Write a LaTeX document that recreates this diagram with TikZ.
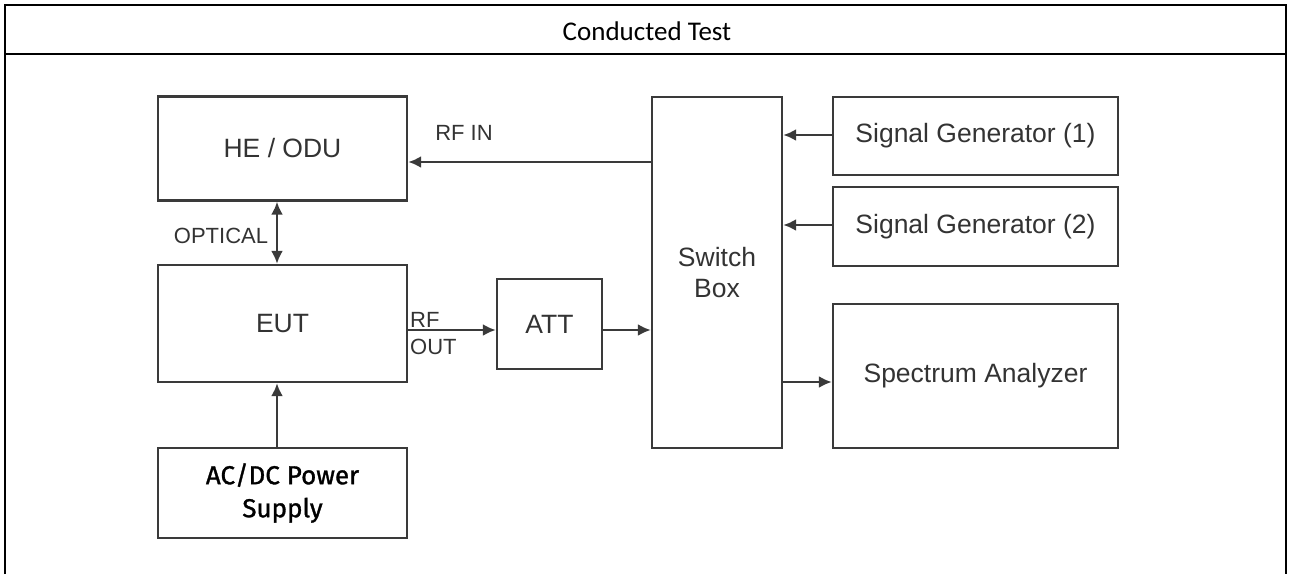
\documentclass[tikz,border=0pt]{standalone}
\usepackage{fontspec}
\setmainfont{Liberation Sans}
\newfontfamily\titlefont{Carlito}
\newfontfamily\psfont[FakeBold=1.2]{Fira Sans}
\usetikzlibrary{arrows.meta,positioning}

\definecolor{boxgray}{HTML}{3A3A3A}
\definecolor{txtgray}{HTML}{333333}

\begin{document}
\begin{tikzpicture}[x=1pt,y=-1pt,
    blk/.style={draw=boxgray, line width=2.4pt, text=txtgray, align=center,
        inner sep=0pt, font=\fontsize{26.5}{31}\selectfont},
    arr/.style={draw=boxgray, line width=2.4pt, -{Latex[length=13pt,width=12pt]}},
    lbl/.style={text=txtgray, inner sep=0pt, font=\fontsize{22}{25}\selectfont}]
    \useasboundingbox (0,0) rectangle (1289,574);

    % frame and heading
    \draw[line width=2.4pt] (5,574)--(5,5)--(1286,5)--(1286,574);
    \draw[line width=2.8pt] (5,54)--(1286,54);
    \node[anchor=base, inner sep=0pt, font=\titlefont\fontsize{27}{30}\selectfont] (title) at (647,40) {Conducted Test};

    % blocks
    \node[blk, minimum width=249pt, minimum height=104pt] (he) at (282.5,148.5) {HE / ODU};
    \node[blk, minimum width=249pt, minimum height=117pt] (eut) at (282.5,323.5) {EUT};
    \node[blk, minimum width=105pt, minimum height=90pt] (att) at (549.5,324) {ATT};
    \node[blk, minimum width=130pt, minimum height=351pt] (sw) at (717,272.5) {Switch\\Box};
    \node[blk, minimum width=285pt, minimum height=78pt] (sg1) at (975.5,136) {Signal Generator (1)};
    \node[blk, minimum width=285pt, minimum height=79pt] (sg2) at (975.5,226.5) {Signal Generator (2)};
    \node[blk, minimum width=285pt, minimum height=144pt] (sa) at (975.5,376) {Spectrum Analyzer};
    \node[blk, minimum width=249pt, minimum height=90pt, text=black,
        font=\psfont\fontsize{26}{33}\selectfont] (ps) at (282.5,493) {AC/DC Power\\Supply};

    % connections
    \draw[arr] (sw.west |- 0,162) -- (he.east |- 0,162);
    \draw[arr, {Latex[length=13pt,width=12pt]}-{Latex[length=13pt,width=12pt]}]
        ([xshift=-5.5pt]he.south) -- ([xshift=-5.5pt]eut.north);
    \draw[arr] (eut.east |- 0,330) -- (att.west |- 0,330);
    \draw[arr] (att.east |- 0,330) -- (sw.west |- 0,330);
    \draw[arr] (sg1.west |- 0,135) -- (sw.east |- 0,135);
    \draw[arr] (sg2.west |- 0,225) -- (sw.east |- 0,225);
    \draw[arr] (sw.east |- 0,382) -- (sa.west |- 0,382);
    \draw[arr] ([xshift=-5.5pt]ps.north) -- ([xshift=-5.5pt]eut.south);

    % labels
    \node[lbl, anchor=base] (rfin) at (464,140) {RF IN};
    \node[lbl, anchor=base] (optical) at (221,243) {OPTICAL};
    \node[lbl, anchor=base west] (rf) at (410,327) {RF};
    \node[lbl, anchor=base west] (rfout) at (410,354) {OUT};
\end{tikzpicture}
\end{document}
